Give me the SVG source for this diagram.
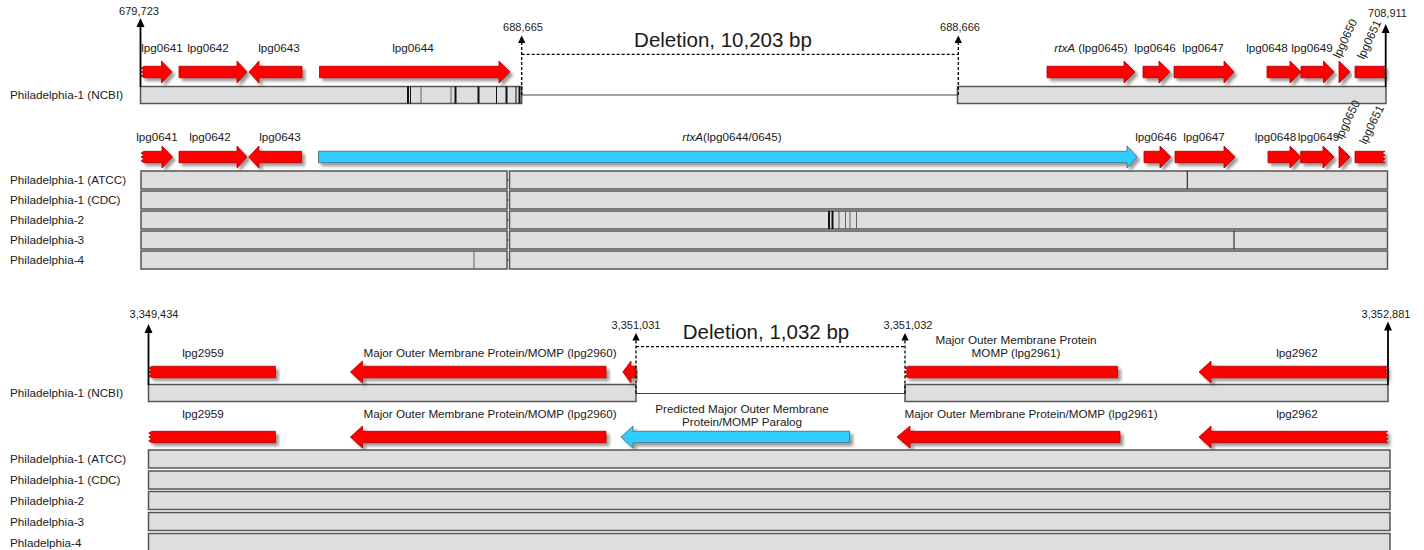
<svg xmlns="http://www.w3.org/2000/svg" width="1424" height="550" viewBox="0 0 1424 550">
<style>
text{font-family:"Liberation Sans",Arial,sans-serif;fill:#1a1a1a}
.lb{font-size:11.7px}
.gl{font-size:11.7px;text-anchor:middle}
.co{font-size:11px;text-anchor:middle}
.del{font-size:20.5px;text-anchor:middle}
.it{font-style:italic}
.red{fill:#ff0000;stroke:#a80000;stroke-width:0.8;filter:url(#sh)}
.blue{fill:#33ccff;stroke:#4a6f80;stroke-width:0.9;filter:url(#sh)}
.bar{fill:#dedede;stroke:#555;stroke-width:1.5}
.mk{stroke:#111;stroke-width:1}
.mkt{stroke:#111;stroke-width:2}
.mkg{stroke:#666;stroke-width:1}
.thin{stroke:#444;stroke-width:1;fill:none}
.axis{stroke:#000;stroke-width:1.8;fill:none}
.dash{stroke:#000;stroke-width:1.3;stroke-dasharray:3 2;fill:none}
.head{fill:#000}
</style>
<defs>
<filter id="sh" x="-10%" y="-50%" width="120%" height="200%">
<feGaussianBlur in="SourceAlpha" stdDeviation="1.5"/>
<feOffset dx="2.5" dy="3" result="b"/>
<feFlood flood-color="#000" flood-opacity="0.4"/>
<feComposite in2="b" operator="in"/>
<feMerge><feMergeNode/><feMergeNode in="SourceGraphic"/></feMerge>
</filter>
</defs>

<!-- ========== TOP SECTION: NCBI ========== -->
<g id="top-ncbi-track">
<text class="lb" x="10" y="99">Philadelphia-1 (NCBI)</text>
<rect class="bar" x="140.5" y="86.5" width="381.2" height="17"/>
<rect class="bar" x="957.5" y="86.5" width="428.5" height="17"/>
<line class="mkt" x1="408" y1="86.5" x2="408" y2="103.5"/>
<line class="mk" x1="410.5" y1="86.5" x2="410.5" y2="103.5"/>
<line class="mkg" x1="421" y1="86.5" x2="421" y2="103.5"/>
<line class="mkg" x1="451" y1="86.5" x2="451" y2="103.5"/>
<line class="mkt" x1="455.5" y1="86.5" x2="455.5" y2="103.5"/>
<line class="mkt" x1="478.5" y1="86.5" x2="478.5" y2="103.5"/>
<line class="mk" x1="496.5" y1="86.5" x2="496.5" y2="103.5"/>
<line class="mkt" x1="506.5" y1="86.5" x2="506.5" y2="103.5"/>
<line class="mk" x1="516" y1="86.5" x2="516" y2="103.5"/>
<line class="mkt" x1="519.5" y1="86.5" x2="519.5" y2="103.5"/>
</g>
<g id="top-ncbi-genes">
<path class="red" d="M144 66.25 H161.5 V61 L172 72 L161.5 83 V77.75 H144 l-3 -1.917 l3 -1.917 l-3 -1.917 l3 -1.917 l-3 -1.917 l3 -1.917 Z"/>
<path class="red" d="M179 66.25 H237 V61 L247 72 L237 83 V77.75 H179 Z"/>
<path class="red" d="M249 72 L259 61 V66.25 H302 V77.75 H259 V83 Z"/>
<path class="red" d="M319.5 66.25 H499 V61 L510 72 L499 83 V77.75 H319.5 Z"/>
<path class="red" d="M1047 66.25 H1124 V61 L1135 72 L1124 83 V77.75 H1047 Z"/>
<path class="red" d="M1143 66.25 H1159 V61 L1170 72 L1159 83 V77.75 H1143 Z"/>
<path class="red" d="M1174 66.25 H1224 V61 L1234 72 L1224 83 V77.75 H1174 Z"/>
<path class="red" d="M1267 66.25 H1290 V61 L1301 72 L1290 83 V77.75 H1267 Z"/>
<path class="red" d="M1301 66.25 H1323.5 V61 L1334 72 L1323.5 83 V77.75 H1301 Z"/>
<path class="red" d="M1339 61 L1350 72 L1339 83 Z"/>
<path class="red" d="M1355 66.25 H1386 l-3 1.917 l3 1.917 l-3 1.917 l3 1.917 l-3 1.917 l3 1.917 H1355 Z"/>
<text class="gl" x="162" y="52">lpg0641</text>
<text class="gl" x="208" y="52">lpg0642</text>
<text class="gl" x="279" y="52">lpg0643</text>
<text class="gl" x="413" y="52">lpg0644</text>
<text class="gl" x="1091" y="52"><tspan class="it">rtxA</tspan> (lpg0645)</text>
<text class="gl" x="1155" y="52">lpg0646</text>
<text class="gl" x="1203" y="52">lpg0647</text>
<text class="gl" x="1267" y="52">lpg0648</text>
<text class="gl" x="1312" y="52">lpg0649</text>
<text class="lb" transform="translate(1340 59) rotate(-65)">lpg0650</text>
<text class="lb" transform="translate(1364 60) rotate(-65)">lpg0651</text>
</g>

<!-- ========== MIDDLE SECTION ========== -->
<g id="mid-reference-genes">
<path class="red" d="M144 151.25 H162 V146 L172.5 157 L162 168 V162.75 H144 l-3 -1.917 l3 -1.917 l-3 -1.917 l3 -1.917 l-3 -1.917 l3 -1.917 Z"/>
<path class="red" d="M179 151.25 H237 V146 L247 157 L237 168 V162.75 H179 Z"/>
<path class="red" d="M248.6 157 L259 146 V151.25 H301.6 V162.75 H259 V168 Z"/>
<path class="blue" d="M318.5 151.25 H1127 V146 L1137 157 L1127 168 V162.75 H318.5 Z"/>
<path class="red" d="M1144 151.25 H1160 V146 L1170.7 157 L1160 168 V162.75 H1144 Z"/>
<path class="red" d="M1175 151.25 H1224 V146 L1235 157 L1224 168 V162.75 H1175 Z"/>
<path class="red" d="M1268 151.25 H1290 V146 L1300.7 157 L1290 168 V162.75 H1268 Z"/>
<path class="red" d="M1300.7 151.25 H1323 V146 L1334 157 L1323 168 V162.75 H1300.7 Z"/>
<path class="red" d="M1339 146 L1350 157 L1339 168 Z"/>
<path class="red" d="M1355 151.25 H1385 l-3 1.917 l3 1.917 l-3 1.917 l3 1.917 l-3 1.917 l3 1.917 H1355 Z"/>
<text class="gl" x="157" y="141">lpg0641</text>
<text class="gl" x="210" y="141">lpg0642</text>
<text class="gl" x="280" y="141">lpg0643</text>
<text class="gl" x="732" y="141"><tspan class="it">rtxA</tspan>(lpg0644/0645)</text>
<text class="gl" x="1156" y="141">lpg0646</text>
<text class="gl" x="1204" y="141">lpg0647</text>
<text class="gl" x="1275.5" y="141">lpg0648</text>
<text class="gl" x="1318.5" y="141">lpg0649</text>
<text class="lb" transform="translate(1342 140) rotate(-64)">lpg0650</text>
<text class="lb" transform="translate(1366 145) rotate(-64)">lpg0651</text>
</g>
<g id="mid-atcc">
<text class="lb" x="10" y="184">Philadelphia-1 (ATCC)</text>
<rect class="bar" x="141" y="171" width="366" height="18"/>
<rect class="bar" x="509.5" y="171" width="878" height="18"/>
<line class="thin" x1="507" y1="180" x2="509.5" y2="180"/>
<line class="mk" x1="1187.3" y1="171" x2="1187.3" y2="189"/>
</g>
<g id="mid-cdc">
<text class="lb" x="10" y="204">Philadelphia-1 (CDC)</text>
<rect class="bar" x="141" y="191" width="366" height="18"/>
<rect class="bar" x="509.5" y="191" width="878" height="18"/>
<line class="thin" x1="507" y1="200" x2="509.5" y2="200"/>
</g>
<g id="mid-ph2">
<text class="lb" x="10" y="224">Philadelphia-2</text>
<rect class="bar" x="141" y="211" width="366" height="18"/>
<rect class="bar" x="509.5" y="211" width="878" height="18"/>
<line class="thin" x1="507" y1="220" x2="509.5" y2="220"/>
<line class="mkt" x1="829" y1="211" x2="829" y2="229"/>
<line class="mkt" x1="832.5" y1="211" x2="832.5" y2="229"/>
<line class="mkg" x1="839" y1="211" x2="839" y2="229"/>
<line class="mkg" x1="845.5" y1="211" x2="845.5" y2="229"/>
<line class="mkg" x1="850" y1="211" x2="850" y2="229"/>
<line class="mkg" x1="856.5" y1="211" x2="856.5" y2="229"/>
</g>
<g id="mid-ph3">
<text class="lb" x="10" y="244">Philadelphia-3</text>
<rect class="bar" x="141" y="231" width="366" height="18"/>
<rect class="bar" x="509.5" y="231" width="878" height="18"/>
<line class="thin" x1="507" y1="240" x2="509.5" y2="240"/>
<line class="mk" x1="1234" y1="231" x2="1234" y2="249"/>
</g>
<g id="mid-ph4">
<text class="lb" x="10" y="264">Philadelphia-4</text>
<rect class="bar" x="141" y="251" width="366" height="18"/>
<rect class="bar" x="509.5" y="251" width="878" height="18"/>
<line class="thin" x1="507" y1="260" x2="509.5" y2="260"/>
<line class="mkg" x1="474" y1="251" x2="474" y2="269"/>
</g>

<!-- ========== BOTTOM SECTION ========== -->
<g id="bot-ncbi-track">
<text class="lb" x="10" y="397">Philadelphia-1 (NCBI)</text>
<rect class="bar" x="148.5" y="384.5" width="487.5" height="17"/>
<rect class="bar" x="905" y="384.5" width="483" height="17"/>
</g>
<g id="bot-ncbi-genes">
<path class="red" d="M151.7 366.25 H275.4 V377.75 H151.7 l-3 -1.917 l3 -1.917 l-3 -1.917 l3 -1.917 l-3 -1.917 l3 -1.917 Z"/>
<path class="red" d="M350.4 372 L362.5 361 V366.25 H606 V377.75 H362.5 V383 Z"/>
<path class="red" d="M622.8 372 L631 361 V366.25 H636 V377.75 H631 V383 Z"/>
<path class="red" d="M908 366.25 H1117.6 V377.75 H908 l-3 -1.917 l3 -1.917 l-3 -1.917 l3 -1.917 l-3 -1.917 l3 -1.917 Z"/>
<path class="red" d="M1199 372 L1211 361 V366.25 H1388 l-3 1.917 l3 1.917 l-3 1.917 l3 1.917 l-3 1.917 l3 1.917 H1211 V383 Z"/>
<text class="gl" x="203" y="357">lpg2959</text>
<text class="gl" x="490" y="357">Major Outer Membrane Protein/MOMP (lpg2960)</text>
<text class="gl" x="1016" y="344">Major Outer Membrane Protein</text>
<text class="gl" x="1016" y="357">MOMP (lpg2961)</text>
<text class="gl" x="1297" y="357">lpg2962</text>
</g>
<g id="bot-reference-genes">
<path class="red" d="M151.7 431.25 H275.4 V442.75 H151.7 l-3 -1.917 l3 -1.917 l-3 -1.917 l3 -1.917 l-3 -1.917 l3 -1.917 Z"/>
<path class="red" d="M350.4 437 L362.5 426 V431.25 H606 V442.75 H362.5 V448 Z"/>
<path class="blue" d="M621 437 L633 426 V431.25 H849.6 V442.75 H633 V448 Z"/>
<path class="red" d="M897 437 L910 426 V431.25 H1120 V442.75 H910 V448 Z"/>
<path class="red" d="M1199 437 L1211 426 V431.25 H1388 l-3 1.917 l3 1.917 l-3 1.917 l3 1.917 l-3 1.917 l3 1.917 H1211 V448 Z"/>
<text class="gl" x="203" y="418">lpg2959</text>
<text class="gl" x="490" y="418">Major Outer Membrane Protein/MOMP (lpg2960)</text>
<text class="gl" x="742" y="413">Predicted Major Outer Membrane</text>
<text class="gl" x="742" y="426">Protein/MOMP Paralog</text>
<text class="gl" x="1031" y="418">Major Outer Membrane Protein/MOMP (lpg2961)</text>
<text class="gl" x="1297" y="418">lpg2962</text>
</g>
<g id="bot-atcc">
<text class="lb" x="10" y="463">Philadelphia-1 (ATCC)</text>
<rect class="bar" x="148.5" y="450" width="1241.5" height="18"/>
</g>
<g id="bot-cdc">
<text class="lb" x="10" y="484">Philadelphia-1 (CDC)</text>
<rect class="bar" x="148.5" y="471" width="1241.5" height="18"/>
</g>
<g id="bot-ph2">
<text class="lb" x="10" y="505">Philadelphia-2</text>
<rect class="bar" x="148.5" y="491.5" width="1241.5" height="18"/>
</g>
<g id="bot-ph3">
<text class="lb" x="10" y="526">Philadelphia-3</text>
<rect class="bar" x="148.5" y="512.5" width="1241.5" height="18"/>
</g>
<g id="bot-ph4">
<text class="lb" x="10" y="547">Phladelphia-4</text>
<rect class="bar" x="148.5" y="533.5" width="1241.5" height="18"/>
</g>

<!-- ========== CONNECTORS ========== -->
<g id="connectors">
<line class="thin" x1="521.7" y1="95" x2="957.5" y2="95"/>
<line class="axis" x1="140.5" y1="87" x2="140.5" y2="25"/>
<polygon class="head" points="140.5,18 136.5,27 144.5,27"/>
<line class="axis" x1="1385.7" y1="87" x2="1385.7" y2="31"/>
<polygon class="head" points="1385.7,24 1381.7,33 1389.7,33"/>
<line class="dash" x1="521.7" y1="95" x2="521.7" y2="42"/>
<polygon class="head" points="521.7,35.5 518,43 525.4,43"/>
<line class="dash" x1="958.3" y1="95" x2="958.3" y2="42"/>
<polygon class="head" points="958.3,35.5 954.6,43 962,43"/>
<line class="dash" x1="521.7" y1="54.3" x2="958.3" y2="54.3"/>

<line class="thin" x1="636" y1="393.5" x2="905" y2="393.5"/>
<line class="axis" x1="148.5" y1="385" x2="148.5" y2="331"/>
<polygon class="head" points="148.5,324 144.5,333 152.5,333"/>
<line class="axis" x1="1388" y1="385" x2="1388" y2="329"/>
<polygon class="head" points="1388,321.5 1384,330.5 1392,330.5"/>
<line class="dash" x1="636" y1="393.5" x2="636" y2="340"/>
<polygon class="head" points="636,333 632.3,340.5 639.7,340.5"/>
<line class="dash" x1="905" y1="393.5" x2="905" y2="340"/>
<polygon class="head" points="905,333 901.3,340.5 908.7,340.5"/>
<line class="dash" x1="636" y1="346.7" x2="905" y2="346.7"/>
</g>

<g id="labels-coordinates">
<text class="co" x="139" y="15">679,723</text>
<text class="co" x="523" y="30.5">688,665</text>
<text class="co" x="960" y="30.5">688,666</text>
<text class="co" x="1387.5" y="17.3">708,911</text>
<text class="del" x="723" y="47">Deletion, 10,203 bp</text>
<text class="co" x="154" y="318">3,349,434</text>
<text class="co" x="636" y="328.5">3,351,031</text>
<text class="co" x="908" y="328.5">3,351,032</text>
<text class="co" x="1386" y="317.5">3,352,881</text>
<text class="del" x="766" y="339">Deletion, 1,032 bp</text>
</g>
</svg>
